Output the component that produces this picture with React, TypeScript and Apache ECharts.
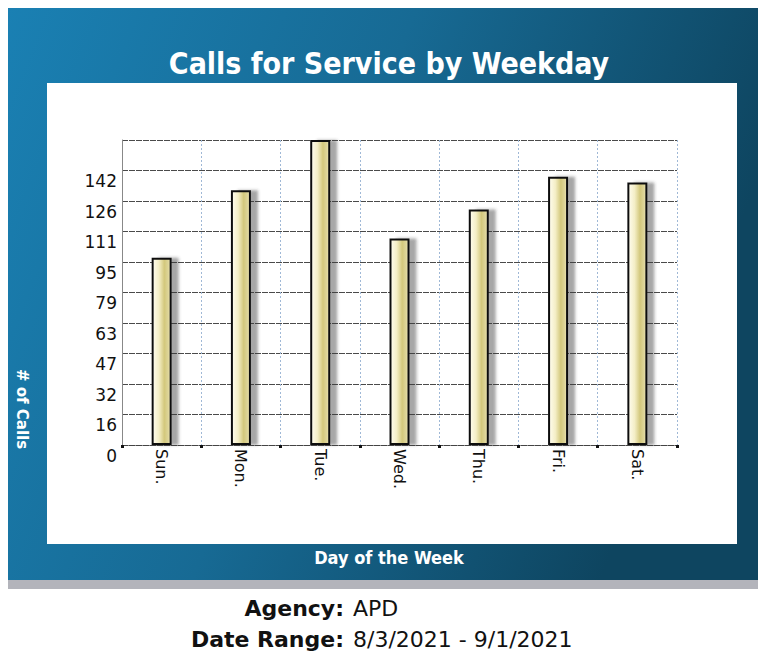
import React, { useEffect, useRef } from "react";
import * as echarts from "echarts";

const days = ["Sun.", "Mon.", "Tue.", "Wed.", "Thu.", "Fri.", "Sat."];
const calls = [97, 132, 158, 107, 122, 139, 136];
const yMax = 158;
const yStep = 15.8;
const titleText = "Calls for Service by Weekday";
const xName = "Day of the Week";
const yName = "# of Calls";
const infoLabels = ["Agency:", "Date Range:"];
const infoValues = ["APD", "8/3/2021 - 9/1/2021"];

export default function App() {
  const ref = useRef<HTMLDivElement>(null);
  useEffect(() => {
    if (!ref.current) return;
    const chart = echarts.init(ref.current, null, { renderer: "svg" });
    const sans = "'DejaVu Sans', Verdana, sans-serif";
    const cond = "'DejaVu Sans Condensed', 'DejaVu Sans', sans-serif";
    const option: any = {
      animation: false,
      backgroundColor: "#ffffff",
      graphic: [
        {
          type: "rect",
          z: -10,
          shape: { x: 8, y: 580, width: 750, height: 9 },
          style: { fill: "#b3b4bb" },
          silent: true,
        },
        {
          type: "rect",
          z: -10,
          shape: { x: 8, y: 8, width: 750, height: 572 },
          style: {
            fill: new echarts.graphic.LinearGradient(0, 0, 1, 0.3, [
              { offset: 0, color: "#1a80b3" },
              { offset: 0.5, color: "#176a94" },
              { offset: 1, color: "#0e4560" },
            ]),
          },
          silent: true,
        },
        {
          type: "rect",
          z: -9,
          shape: { x: 47, y: 83, width: 690, height: 461 },
          style: { fill: "#ffffff" },
          silent: true,
        },
        {
          type: "text",
          x: 389,
          y: 63,
          style: {
            text: titleText,
            fill: "#ffffff",
            font: `bold 30px ${cond}`,
            align: "center",
            verticalAlign: "middle",
            textShadowColor: "rgba(0,0,0,0.5)",
            textShadowOffsetX: 1,
            textShadowOffsetY: 1,
          },
        },
        {
          type: "text",
          x: 389,
          y: 557,
          style: {
            text: xName,
            fill: "#ffffff",
            font: `bold 18px ${cond}`,
            align: "center",
            verticalAlign: "middle",
          },
        },
        {
          type: "text",
          x: 22,
          y: 409,
          rotation: -Math.PI / 2,
          style: {
            text: yName,
            fill: "#ffffff",
            font: `bold 15px ${sans}`,
            align: "center",
            verticalAlign: "middle",
          },
        },
        ...infoLabels.map((t, i) => ({
          type: "text",
          x: 344,
          y: 608 + i * 31,
          style: {
            text: t,
            fill: "#111111",
            font: `bold 22px ${sans}`,
            align: "right",
            verticalAlign: "middle",
          },
        })),
        ...infoValues.map((t, i) => ({
          type: "text",
          x: 353,
          y: 608 + i * 31,
          style: {
            text: t,
            fill: "#111111",
            font: `22px ${sans}`,
            align: "left",
            verticalAlign: "middle",
          },
        })),
      ],
      grid: { left: 122, top: 140, width: 555, height: 305, containLabel: false },
      xAxis: {
        type: "category",
        data: days,
        boundaryGap: true,
        axisLine: { show: true, lineStyle: { color: "#444", width: 1, type: [6, 1] } },
        axisTick: { show: true, length: 3, lineStyle: { color: "#111", width: 3 } },
        splitLine: { show: true, lineStyle: { color: "#9fb8d6", width: 1, type: [2, 2] } },
        axisLabel: {
          interval: 0,
          rotate: -90,
          margin: 4,
          color: "#111",
          fontSize: 16,
          fontFamily: sans,
        },
      },
      yAxis: {
        type: "value",
        min: 0,
        max: yMax,
        interval: yStep,
        axisLine: { show: true, lineStyle: { color: "#888", width: 1 } },
        axisTick: { show: false },
        splitLine: { show: true, lineStyle: { color: "#4a4a4a", width: 1, type: [6, 1] } },
        axisLabel: {
          showMaxLabel: false,
          margin: 5,
          color: "#111",
          fontSize: 17,
          fontFamily: sans,
          verticalAlign: "top",
          padding: [2, 0, 0, 0],
          formatter: (v: number) => String(Math.round(v)),
        },
      },
      series: [
        {
          type: "bar",
          data: calls,
          barWidth: 20,
          itemStyle: {
            borderColor: "#111",
            borderWidth: 2,
            color: new echarts.graphic.LinearGradient(0, 0, 1, 0, [
              { offset: 0, color: "#fffdf0" },
              { offset: 0.35, color: "#f4eec6" },
              { offset: 0.65, color: "#d3c87c" },
              { offset: 0.85, color: "#ddd497" },
              { offset: 1, color: "#ebe4b5" },
            ]),
            shadowColor: "rgba(60,60,60,0.45)",
            shadowOffsetX: 7,
            shadowOffsetY: 0,
            shadowBlur: 3,
          },
        },
      ],
    };
    chart.setOption(option);
    return () => chart.dispose();
  }, []);
  return (
    <div
      ref={ref}
      style={{ position: "fixed", left: 0, top: 0, width: 758, height: 654 }}
    />
  );
}
